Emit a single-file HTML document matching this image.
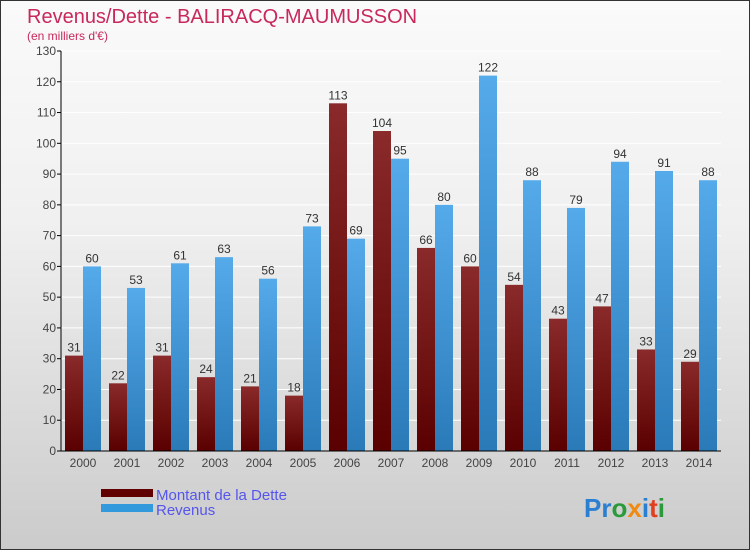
<!DOCTYPE html>
<html><head><meta charset="utf-8"><style>
body{margin:0}
#c{width:748px;height:548px;border:1px solid #333;background:linear-gradient(#fafafa,#f0f0f0 40%,#cbcbcb);position:relative;font-family:"Liberation Sans",sans-serif}
</style></head><body>
<div id="c">
<svg id="s" width="748" height="548" style="position:absolute;left:0;top:0">
<text x="26" y="22" font-size="20" fill="#c8285a">Revenus/Dette - BALIRACQ-MAUMUSSON</text>
<text x="26" y="39" font-size="12" fill="#c8285a">(en milliers d'€)</text>
<g id="g"></g>
<rect x="100" y="488" width="52" height="8" fill="#600000"/>
<rect x="100" y="503" width="52" height="8" fill="#3399dd"/>
<text x="155" y="499" font-size="15" fill="#5555ee">Montant de la Dette</text>
<text x="155" y="514" font-size="15" fill="#5555ee">Revenus</text>
<text x="583" y="516" font-size="26" font-weight="bold"><tspan fill="#2a7fd0">Pr</tspan><tspan fill="#2a9a3a">o</tspan><tspan fill="#f08a10">x</tspan><tspan fill="#2a7fd0">i</tspan><tspan fill="#e04020">t</tspan><tspan fill="#2a9a3a">i</tspan></text>
</svg>
</div>
<script>
const years=["2000","2001","2002","2003","2004","2005","2006","2007","2008","2009","2010","2011","2012","2013","2014"];
const dette=[31,22,31,24,21,18,113,104,66,60,54,43,47,33,29];
const revenus=[60,53,61,63,56,73,69,95,80,122,88,79,94,91,88];
const ticks=[0,10,20,30,40,50,60,70,80,90,100,110,120,130];
const g=document.getElementById('g');const NS='http://www.w3.org/2000/svg';
const y=v=>450-v*400/130;const x0=i=>64+i*44;
function mk(t,a){const e=document.createElementNS(NS,t);for(const k in a)e.setAttribute(k,a[k]);g.appendChild(e);return e;}
const defs=mk('defs',{});
defs.innerHTML='<linearGradient id="gd" x1="0" y1="0" x2="0" y2="1"><stop offset="0" stop-color="#8a2a2a"/><stop offset="1" stop-color="#5a0000"/></linearGradient><linearGradient id="gr" x1="0" y1="0" x2="0" y2="1"><stop offset="0" stop-color="#55aaea"/><stop offset="1" stop-color="#2a7ab8"/></linearGradient>';
ticks.forEach(t=>{
 const l=mk('line',{x1:60,x2:720,y1:y(t),y2:y(t),stroke:'#fff','stroke-width':1});
 
 const k=mk('line',{x1:56,x2:60,y1:y(t),y2:y(t),stroke:'#000'});
 
 const tx=mk('text',{x:55,y:y(t)+4,'font-size':12,fill:'#444','text-anchor':'end'});tx.textContent=t;
 
});
years.forEach((yr,i)=>{
 const b1=mk('rect',{x:x0(i),y:y(dette[i]),width:18,height:450-y(dette[i]),fill:'url(#gd)'});
 
 const b2=mk('rect',{x:x0(i)+18,y:y(revenus[i]),width:18,height:450-y(revenus[i]),fill:'url(#gr)'});
 
 const l1=mk('text',{x:x0(i)+9,y:y(dette[i])-4,'font-size':12,fill:'#333','text-anchor':'middle'});l1.textContent=dette[i];
 
 const l2=mk('text',{x:x0(i)+27,y:y(revenus[i])-4,'font-size':12,fill:'#333','text-anchor':'middle'});l2.textContent=revenus[i];
 
 const xt=mk('text',{x:x0(i)+18,y:466,'font-size':12,fill:'#444','text-anchor':'middle'});xt.textContent=yr;
 
});
const ax=mk('line',{x1:60,x2:60,y1:50,y2:450,stroke:'#000'});

const bx=mk('line',{x1:60,x2:720,y1:450,y2:450,stroke:'#000'});

</script>
</body></html>
